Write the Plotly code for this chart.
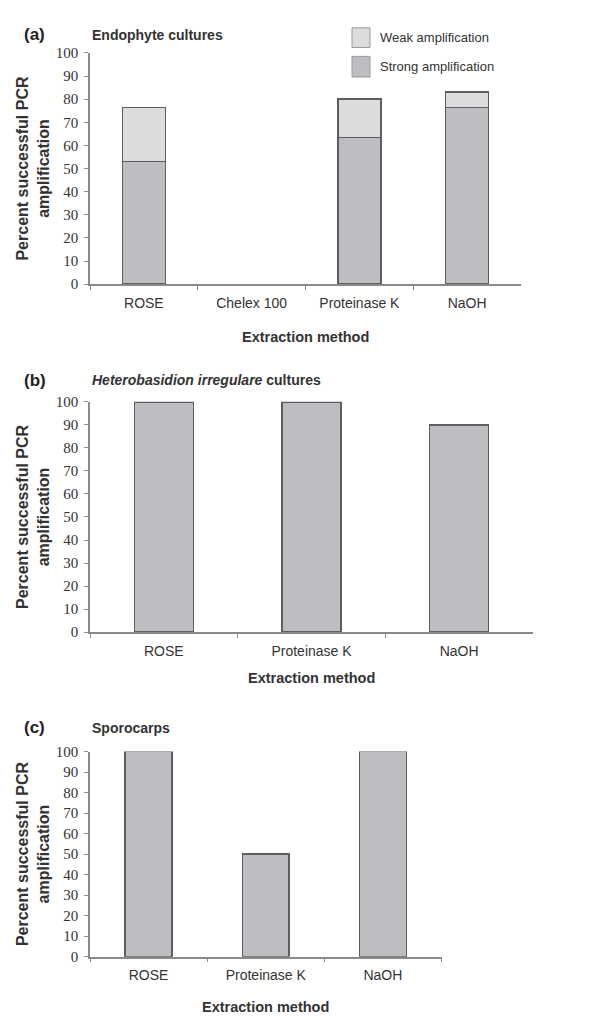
import plotly.graph_objects as go

# ---------------- data ----------------
cats_a = ["ROSE", "Chelex 100", "Proteinase K", "NaOH"]
strong_a = [53, 0, 63.5, 76.5]
weak_a = [23.5, 0, 16.5, 6.5]

cats_b = ["ROSE", "Proteinase K", "NaOH"]
vals_b = [100, 100, 90]

cats_c = ["ROSE", "Proteinase K", "NaOH"]
vals_c = [100, 50, 100]

y_ticks = [0, 10, 20, 30, 40, 50, 60, 70, 80, 90, 100]

# ---------------- style ----------------
W, H = 609, 1016
STRONG = "#bdbec1"
WEAK = "#dcdcde"
EDGE = "#5e5e5e"
AXIS = "#8a8a8a"
TXT = "#333333"
SANS = "Liberation Sans, Arial, sans-serif"
SERIF = "Liberation Serif, Times New Roman, serif"


def px(x):
    return x / W


def py(y):
    return 1 - y / H


def bar_line(vals):
    return dict(color=EDGE, width=[1.5 if v else 0 for v in vals])


fig = go.Figure()
fig.add_trace(go.Bar(x=cats_a, y=strong_a, name="Strong amplification",
                     marker=dict(color=STRONG, line=bar_line(strong_a)),
                     xaxis="x", yaxis="y", showlegend=False))
fig.add_trace(go.Bar(x=cats_a, y=weak_a, name="Weak amplification",
                     marker=dict(color=WEAK, line=bar_line(weak_a)),
                     xaxis="x", yaxis="y", showlegend=False))
fig.add_trace(go.Bar(x=cats_b, y=vals_b, name="H. irregulare",
                     marker=dict(color=STRONG, line=bar_line(vals_b)),
                     xaxis="x2", yaxis="y2", showlegend=False))
fig.add_trace(go.Bar(x=cats_c, y=vals_c, name="Sporocarps",
                     marker=dict(color=STRONG, line=bar_line(vals_c)),
                     xaxis="x3", yaxis="y3", showlegend=False))

xcommon = dict(type="category", tickson="boundaries", ticks="outside",
               ticklen=4, tickcolor=AXIS, tickwidth=1.2, showline=True,
               linecolor=AXIS, linewidth=1.5, showgrid=False, zeroline=False,
               tickfont=dict(family=SANS, size=14, color=TXT),
               ticklabelstandoff=5, fixedrange=True)
ycommon = dict(range=[0, 100], tickvals=y_ticks, ticks="outside", ticklen=4,
               tickcolor=AXIS, tickwidth=1.2, showline=True, linecolor=AXIS,
               linewidth=1.5, showgrid=False, zeroline=False,
               tickfont=dict(family=SERIF, size=15, color=TXT),
               ticklabelstandoff=3, fixedrange=True)

AX0 = 82
panels = [
    # (x0, x1, y(px) of value 0, y(px) of value 100, xrange)
    (AX0, 513, 272.5, 37.5, [-0.5, 3.5]),
    (AX0, 525, 626, 392, [-0.5, 2.5]),
    (AX0, 433.5, 955.7, 747.3, [-0.5, 2.5]),
]
for i, (x0, x1, yb, yt, xr) in enumerate(panels, start=1):
    sfx = "" if i == 1 else str(i)
    fig.layout["xaxis" + sfx] = dict(xcommon, domain=[px(x0), px(x1)],
                                     range=xr, anchor="y" + sfx)
    fig.layout["yaxis" + sfx] = dict(ycommon, domain=[py(yb), py(yt)],
                                     anchor="x" + sfx)

annotations = []
titles = [
    ("(a)", "<b>Endophyte cultures</b>", 19, 326, 155),
    ("(b)", "<b><i>Heterobasidion irregulare</i> cultures</b>", 370, 673, 509),
    ("(c)", "<b>Sporocarps</b>", 723, 1006.5, 851.5),
]
for (lab, ttl, ty, xty, ymid), (x0, x1, *_r) in zip(titles, panels):
    annotations.append(dict(text="<b>" + lab + "</b>", x=px(14), y=py(ty),
                            xref="paper", yref="paper", xanchor="left",
                            yanchor="middle", showarrow=False,
                            font=dict(family=SANS, size=17, color="#222")))
    annotations.append(dict(text=ttl, x=px(AX0), y=py(ty), xref="paper",
                            yref="paper", xanchor="left", yanchor="middle",
                            showarrow=False,
                            font=dict(family=SANS, size=14, color=TXT)))
    annotations.append(dict(text="<b>Extraction method</b>",
                            x=px((x0 + x1) / 2), y=py(xty), xref="paper",
                            yref="paper", xanchor="center", yanchor="middle",
                            showarrow=False,
                            font=dict(family=SANS, size=14.5, color=TXT)))
    annotations.append(dict(text="<b>Percent successful PCR<br>amplification</b>",
                            x=px(25), y=py(ymid), xref="paper", yref="paper",
                            xanchor="center", yanchor="middle", textangle=-90,
                            showarrow=False,
                            font=dict(family=SANS, size=16, color=TXT)))

# legend (panel a)
shapes = []
for (ya, yb2), col, name in [((12, 32), WEAK, "Weak amplification"),
                             ((41, 62), STRONG, "Strong amplification")]:
    shapes.append(dict(type="rect", xref="paper", yref="paper",
                       x0=px(344), x1=px(362), y0=py(yb2), y1=py(ya),
                       fillcolor=col, line=dict(color="#9a9a9a", width=1)))
    annotations.append(dict(text=name, x=px(370), y=py((ya + yb2) / 2),
                            xref="paper", yref="paper", xanchor="left",
                            yanchor="middle", showarrow=False,
                            font=dict(family=SANS, size=13, color=TXT)))

fig.update_layout(width=W, height=H, margin=dict(l=0, r=0, t=0, b=0),
                  paper_bgcolor="white", plot_bgcolor="white",
                  barmode="stack", bargap=0.6, annotations=annotations,
                  shapes=shapes, showlegend=False)

fig.write_html("out.html")
